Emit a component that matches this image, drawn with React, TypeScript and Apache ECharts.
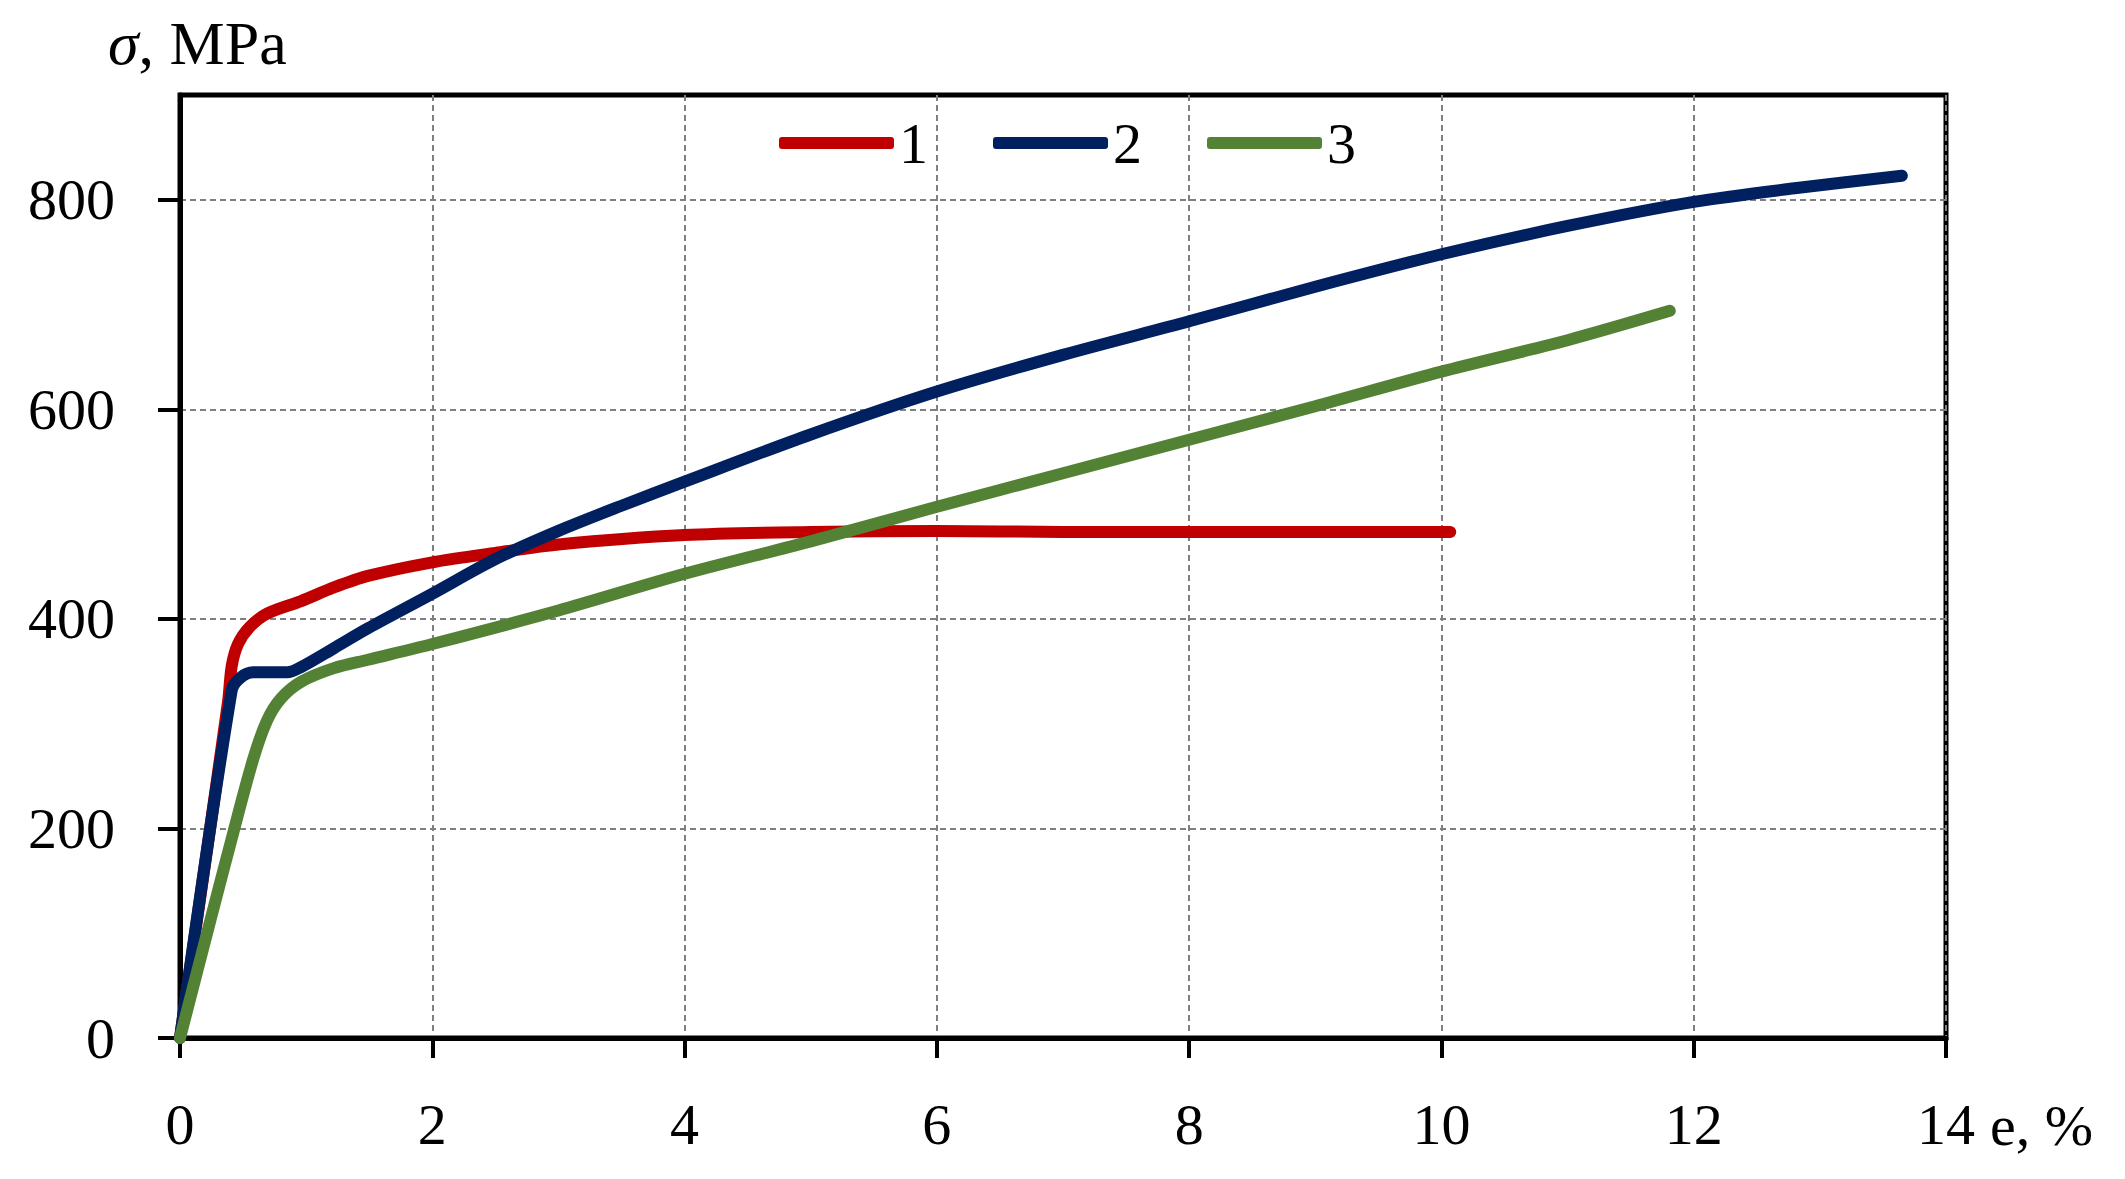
import React, { useEffect, useRef } from "react";
import * as echarts from "echarts";

// Curve 1 (red): e, % -> sigma, MPa
const series1: [number, number][] = [
  [0, 0], [0.38, 320], [0.41, 355], [0.46, 376], [0.55, 392], [0.69, 405], [0.96, 417],
  [1.22, 430], [1.49, 441], [2, 454], [2.5, 463], [3, 471], [4, 480], [5, 483],
  [6, 484], [7, 483], [8, 483], [9, 483], [10.07, 483],
];
// Curve 2 (blue)
const series2: [number, number][] = [
  [0, 0], [0.41, 332], [0.48, 344], [0.58, 349], [0.85, 349], [0.96, 354], [1.22, 372],
  [1.49, 391], [2, 424], [2.5, 457], [3, 484], [3.5, 508], [4, 531], [5, 576],
  [6, 617], [7, 652], [8, 684], [9, 717], [10, 748], [11, 775], [12, 798], [12.8, 811],
  [13.65, 823],
];
// Curve 3 (green)
const series3: [number, number][] = [
  [0, 0], [0.24, 112], [0.42, 195], [0.58, 266], [0.69, 303], [0.8, 324], [0.96, 340],
  [1.22, 353], [1.49, 361], [2, 376], [3, 408], [4, 443], [5, 474], [6, 507],
  [7, 539], [8, 571], [9, 603], [10, 636], [11, 666], [11.81, 694],
];

const seriesNames = ["1", "2", "3"];
const seriesColors = ["#C00000", "#002060", "#548235"];
const yTicks = [0, 200, 400, 600, 800];
const xTicks = [0, 2, 4, 6, 8, 10, 12, 14];

const FONT = "'Liberation Serif', 'Times New Roman', serif";

export default function App() {
  const ref = useRef<HTMLDivElement>(null);
  useEffect(() => {
    if (!ref.current) return;
    const chart = echarts.init(ref.current, undefined, { renderer: "svg" });
    const data = [series1, series2, series3];
    chart.setOption({
      animation: false,
      backgroundColor: "#ffffff",
      grid: {
        left: 180,
        right: 179,
        top: 95,
        bottom: 141,
        show: true,
        borderColor: "#000",
        borderWidth: 5,
        containLabel: false,
      },
      legend: {
        left: 779,
        top: 114,
        padding: 0,
        icon: "roundRect",
        itemWidth: 115,
        itemHeight: 12,
        itemGap: 65,
        data: seriesNames,
        textStyle: { fontFamily: FONT, fontSize: 58, color: "#000" },
      },
      xAxis: {
        type: "value",
        min: xTicks[0],
        max: xTicks[xTicks.length - 1],
        interval: 2,
        axisLine: { show: true, lineStyle: { color: "#000", width: 5 } },
        axisTick: { show: true, inside: false, length: 20, lineStyle: { color: "#000", width: 4 } },
        axisLabel: {
          fontFamily: FONT,
          fontSize: 58,
          color: "#000",
          margin: 57,
        },
        splitLine: {
          show: true,
          lineStyle: { color: "#808080", width: 2, type: [6, 4] },
        },
      },
      yAxis: {
        type: "value",
        min: 0,
        max: 900,
        interval: 200,
        axisLine: { show: true, lineStyle: { color: "#000", width: 5 } },
        axisTick: {
          show: true,
          inside: false,
          length: 22,
          customValues: yTicks,
          lineStyle: { color: "#000", width: 4 },
        },
        axisLabel: {
          fontFamily: FONT,
          fontSize: 58,
          color: "#000",
          margin: 65,
          customValues: yTicks,
          formatter: (v: number) => (v > 800 ? "" : String(v)),
        },
        splitLine: {
          show: true,
          lineStyle: { color: "#808080", width: 2, type: [6, 4] },
        },
      },
      graphic: [
        {
          type: "text",
          left: 108,
          top: 12,
          style: {
            text: "{i|σ}, MPa",
            fontFamily: FONT,
            fontSize: 62,
            fill: "#000",
            rich: {
              i: { fontFamily: FONT, fontSize: 62, fontStyle: "italic", fill: "#000" },
            },
          },
        },
        {
          type: "text",
          left: 1990,
          top: 1096,
          style: {
            text: "e, %",
            fontFamily: FONT,
            fontSize: 58,
            fill: "#000",
          },
        },
      ],
      series: data.map((d, i) => ({
        name: seriesNames[i],
        type: "line",
        data: d,
        showSymbol: false,
        symbol: "none",
        smooth: 0.3,
        color: seriesColors[i],
        itemStyle: { color: seriesColors[i] },
        lineStyle: { color: seriesColors[i], width: 12, cap: "round", join: "round" },
        z: 2 + i,
      })),
    });
    return () => chart.dispose();
  }, []);
  return (
    <div
      ref={ref}
      style={{ position: "fixed", left: 0, top: 0, width: 2125, height: 1179, background: "#fff" }}
    />
  );
}
